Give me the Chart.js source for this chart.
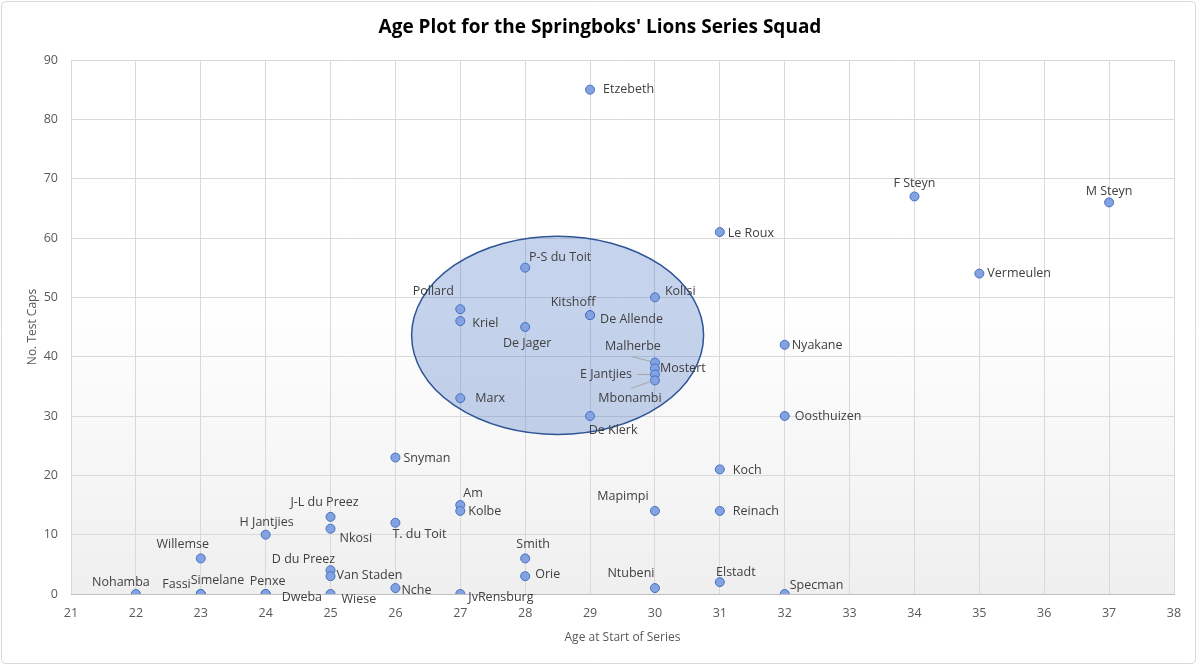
<!DOCTYPE html>
<html>
<head>
<meta charset="utf-8">
<script src="https://cdn.jsdelivr.net/npm/chart.js@4.4.1/dist/chart.umd.min.js"></script>
<style>
html, body { margin: 0; padding: 0; background: #fff; }
#wrap { width: 1200px; height: 665px; position: relative; }
</style>
</head>
<body>
<div id="wrap"><canvas id="c"></canvas></div>
<script>
// squad data : name / age at start of series / test caps
const players = ['Nohamba', 'Fassi', 'Simelane', 'Willemse', 'H Jantjies', 'Penxe', 'Dweba',
  'J-L du Preez', 'Nkosi', 'D du Preez', 'Van Staden', 'Wiese', 'T. du Toit', 'Nche', 'Snyman',
  'Am', 'Kolbe', 'JvRensburg', 'Pollard', 'Kriel', 'Marx', 'P-S du Toit', 'De Jager', 'Smith',
  'Orie', 'Etzebeth', 'Kitshoff', 'De Allende', 'De Klerk', 'Kolisi', 'Malherbe', 'Mostert',
  'E Jantjies', 'Mbonambi', 'Mapimpi', 'Ntubeni', 'Le Roux', 'Koch', 'Reinach', 'Elstadt',
  'Nyakane', 'Oosthuizen', 'Specman', 'F Steyn', 'Vermeulen', 'M Steyn'];
const ages = [22, 23, 23, 23, 24, 24, 24,
  25, 25, 25, 25, 25, 26, 26, 26,
  27, 27, 27, 27, 27, 27, 28, 28, 28,
  28, 29, 29, 29, 29, 30, 30, 30,
  30, 30, 30, 30, 31, 31, 31, 31,
  32, 32, 32, 34, 35, 37];
const caps = [0, 0, 0, 6, 10, 0, 0,
  13, 11, 4, 3, 0, 12, 1, 23,
  15, 14, 0, 48, 46, 33, 55, 45, 6,
  3, 85, 47, 47, 30, 50, 39, 38,
  37, 36, 14, 1, 61, 21, 14, 2,
  42, 30, 0, 67, 54, 66];

const xTickValues = [21, 22, 23, 24, 25, 26, 27, 28, 29, 30, 31, 32, 33, 34, 35, 36, 37, 38];
const yTickValues = [0, 10, 20, 30, 40, 50, 60, 70, 80, 90];

// highlighted group (ellipse), in data units
const ellipseCentre = [28.5, 43.6];
const ellipseRadius = [2.25, 16.7];

// label placement: [dx, dy, align] in px relative to the point, optional leader line
const labelPlace = {
  'Etzebeth': [13, 0, 'left'],
  'F Steyn': [0, -13, 'center'],
  'M Steyn': [0, -11, 'center'],
  'Le Roux': [8, 1, 'left'],
  'Vermeulen': [8, 0, 'left'],
  'P-S du Toit': [35, -10, 'center'],
  'Pollard': [-27, -18, 'center'],
  'Kriel': [12, 2, 'left'],
  'De Jager': [2, 16, 'center'],
  'Kitshoff': [-17, -13, 'center'],
  'De Allende': [10, 4, 'left'],
  'Kolisi': [10, -6, 'left'],
  'Malherbe': [-22, -16, 'center', [-23, -6, -4, -1]],
  'Mostert': [5, 0, 'left'],
  'E Jantjies': [-23, 0, 'right', [-18, 0, -5, 0]],
  'Mbonambi': [-25, 18, 'center', [-24, 8, -4, 1]],
  'Marx': [15, 0, 'left'],
  'De Klerk': [23, 14, 'center'],
  'Nyakane': [7, 1, 'left'],
  'Oosthuizen': [10, 0, 'left'],
  'Snyman': [8, 1, 'left'],
  'Koch': [13, 1, 'left'],
  'Am': [3, -12, 'left'],
  'Kolbe': [8, 1, 'left'],
  'Mapimpi': [-32, -14, 'center'],
  'Reinach': [13, 1, 'left'],
  'J-L du Preez': [-6, -14, 'center'],
  'H Jantjies': [1, -12, 'center'],
  'Nkosi': [9, 10, 'left'],
  'T. du Toit': [-3, 12, 'left'],
  'Willemse': [-18, -14, 'center'],
  'Smith': [8, -14, 'center'],
  'D du Preez': [-27, -11, 'center'],
  'Van Staden': [6, -1, 'left'],
  'Orie': [10, -2, 'left'],
  'Ntubeni': [-24, -15, 'center'],
  'Elstadt': [16, -10, 'center'],
  'Specman': [5, -9, 'left'],
  'Nohamba': [-15, -12, 'center'],
  'Fassi': [-10, -10, 'right'],
  'Simelane': [-10, -14, 'left'],
  'Penxe': [2, -13, 'center'],
  'Dweba': [16, 3, 'left'],
  'Wiese': [11, 5, 'left'],
  'Nche': [6, 2, 'left'],
  'JvRensburg': [8, 3, 'left']
};

const FONT = '"Open Sans", "DejaVu Sans", sans-serif';

const backgroundPlugin = {
  id: 'plotBackground',
  beforeDraw(chart) {
    const { ctx, chartArea: a } = chart;
    ctx.save();
    ctx.fillStyle = '#fff';
    ctx.fillRect(0, 0, chart.width, chart.height);
    const g = ctx.createLinearGradient(0, a.top, 0, a.bottom);
    g.addColorStop(0, '#ffffff');
    g.addColorStop(0.45, '#ffffff');
    g.addColorStop(1, '#efefef');
    ctx.fillStyle = g;
    ctx.fillRect(a.left, a.top, a.right - a.left, a.bottom - a.top);
    ctx.restore();
  },
  afterDraw(chart) {
    // outer chart frame + title
    const ctx = chart.ctx;
    ctx.save();
    ctx.strokeStyle = '#d9d9d9';
    ctx.lineWidth = 1;
    ctx.beginPath();
    ctx.roundRect(1.5, 1.5, 1194, chart.height - 3, 4);
    ctx.stroke();
    ctx.fillStyle = '#000';
    ctx.font = 'bold 19px ' + FONT;
    ctx.textAlign = 'center';
    ctx.textBaseline = 'middle';
    ctx.fillText("Age Plot for the Springboks' Lions Series Squad", 600, 28);
    ctx.restore();
  }
};

const ellipsePlugin = {
  id: 'groupEllipse',
  beforeDatasetsDraw(chart) {
    const { ctx, scales: { x, y } } = chart;
    const cx = x.getPixelForValue(ellipseCentre[0]);
    const cy = y.getPixelForValue(ellipseCentre[1]);
    const rx = x.getPixelForValue(ellipseCentre[0] + ellipseRadius[0]) - cx;
    const ry = cy - y.getPixelForValue(ellipseCentre[1] + ellipseRadius[1]);
    ctx.save();
    ctx.beginPath();
    ctx.ellipse(cx, cy, rx, ry, 0, 0, Math.PI * 2);
    ctx.fillStyle = 'rgba(68, 114, 196, 0.31)';
    ctx.fill();
    ctx.strokeStyle = '#2f5597';
    ctx.lineWidth = 1.5;
    ctx.stroke();
    ctx.restore();
  }
};

const labelPlugin = {
  id: 'pointNames',
  afterDatasetsDraw(chart) {
    const ctx = chart.ctx;
    const meta = chart.getDatasetMeta(0);
    ctx.save();
    ctx.font = '12.5px ' + FONT;
    ctx.textBaseline = 'middle';
    meta.data.forEach((pt, i) => {
      const p = labelPlace[players[i]];
      if (!p) return;
      if (p[3]) {
        ctx.strokeStyle = '#a6a6a6';
        ctx.lineWidth = 1;
        ctx.beginPath();
        ctx.moveTo(pt.x + p[3][0], pt.y + p[3][1]);
        ctx.lineTo(pt.x + p[3][2], pt.y + p[3][3]);
        ctx.stroke();
      }
      ctx.fillStyle = '#404040';
      ctx.textAlign = p[2];
      ctx.fillText(players[i], pt.x + p[0], pt.y + p[1]);
    });
    ctx.restore();
  }
};

new Chart(document.getElementById('c'), {
  type: 'scatter',
  data: {
    datasets: [{
      label: 'Squad',
      data: players.map((n, i) => ({ x: ages[i], y: caps[i] })),
      pointRadius: 4.5,
      pointHoverRadius: 4.5,
      pointBackgroundColor: '#84a2df',
      pointBorderColor: '#4472c4',
      pointBorderWidth: 1
    }]
  },
  options: {
    responsive: true,
    maintainAspectRatio: false,
    animation: false,
    layout: { padding: { left: 0, right: 26, top: 60, bottom: 16 } },
    plugins: {
      legend: { display: false },
      tooltip: { enabled: false }
    },
    scales: {
      x: {
        type: 'linear',
        min: xTickValues[0],
        max: xTickValues[xTickValues.length - 1],
        afterBuildTicks(scale) { scale.ticks = xTickValues.map(v => ({ value: v })); },
        afterFit(scale) { scale.height = 55; },
        grid: { color: '#d9d9d9', drawTicks: false },
        border: { color: '#bfbfbf' },
        ticks: { color: '#595959', font: { family: FONT, size: 12.5 }, padding: 12 },
        title: { display: true, text: 'Age at Start of Series', color: '#595959',
          font: { family: FONT, size: 12 }, padding: { top: 4 } }
      },
      y: {
        type: 'linear',
        min: yTickValues[0],
        max: yTickValues[yTickValues.length - 1],
        afterBuildTicks(scale) { scale.ticks = yTickValues.map(v => ({ value: v })); },
        afterFit(scale) { scale.width = 71; },
        grid: { color: '#d9d9d9', drawTicks: false },
        border: { display: false },
        ticks: { color: '#595959', font: { family: FONT, size: 12.5 }, padding: 13 },
        title: { display: true, text: 'No. Test Caps', color: '#595959',
          font: { family: FONT, size: 12 }, padding: { top: 25, bottom: 0 } }
      }
    }
  },
  plugins: [backgroundPlugin, ellipsePlugin, labelPlugin]
});
</script>
</body>
</html>
